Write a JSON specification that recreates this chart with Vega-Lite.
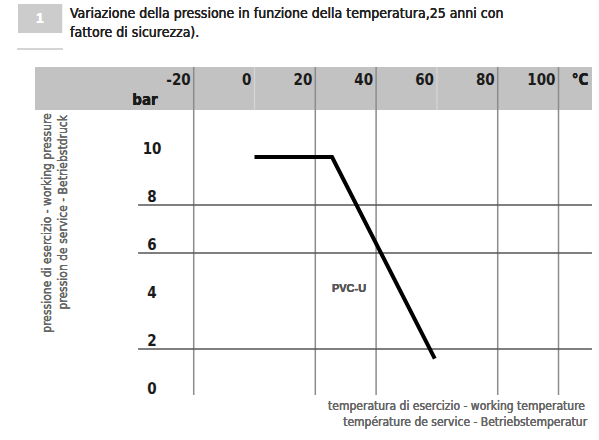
{
  "$schema": "https://vega.github.io/schema/vega-lite/v6.json",
  "width": 599,
  "height": 440,
  "autosize": "none",
  "padding": 0,
  "background": "white",
  "config": {"view": {"stroke": null}, "font": "DejaVu Sans Condensed, sans-serif"},
  "datasets": {
    "curve": [{"t": 0, "p": 10}, {"t": 25.5, "p": 10}, {"t": 59.3, "p": 1.6}],
    "xticks": [{"t": -20, "label": "-20"}, {"t": 0, "label": "0"}, {"t": 20, "label": "20"}, {"t": 40, "label": "40"}, {"t": 60, "label": "60"}, {"t": 80, "label": "80"}, {"t": 100, "label": "100"}],
    "yticks": [{"p": 0, "label": "0"}, {"p": 2, "label": "2"}, {"p": 4, "label": "4"}, {"p": 6, "label": "6"}, {"p": 8, "label": "8"}, {"p": 10, "label": "10"}]
  },
  "data": {"name": "curve"},
  "layer": [
    {
      "mark": {"type": "rect", "color": "#cccccc"},
      "encoding": {
        "x": {"datum": -77.8, "type": "quantitative", "scale": {"domain": [-83.72, 113.32], "nice": false, "zero": false}, "axis": null},
        "x2": {"datum": -63.3},
        "y": {"datum": 16.375, "type": "quantitative", "scale": {"domain": [-1.792, 16.542], "nice": false, "zero": false}, "axis": null},
        "y2": {"datum": 15.167}
      }
    },
    {
      "mark": {"type": "text", "color": "white", "fontWeight": "bold", "fontSize": 14, "font": "Liberation Sans, sans-serif", "baseline": "middle", "align": "center"},
      "encoding": {
        "x": {"datum": -70.56, "type": "quantitative", "scale": {"domain": [-83.72, 113.32], "nice": false, "zero": false}, "axis": null},
        "y": {"datum": 15.75, "type": "quantitative", "scale": {"domain": [-1.792, 16.542], "nice": false, "zero": false}, "axis": null},
        "text": {"value": "1"}
      }
    },
    {
      "mark": {"type": "rule", "color": "#cfcfcf", "strokeWidth": 1},
      "encoding": {
        "x": {"datum": -78.1, "type": "quantitative", "scale": {"domain": [-83.72, 113.32], "nice": false, "zero": false}, "axis": null},
        "x2": {"datum": -63.0},
        "y": {"datum": 14.5, "type": "quantitative", "scale": {"domain": [-1.792, 16.542], "nice": false, "zero": false}, "axis": null}
      }
    },
    {
      "mark": {"type": "text", "color": "#222222", "fontSize": 14, "baseline": "middle", "align": "left"},
      "encoding": {
        "x": {"datum": -60.7, "type": "quantitative", "scale": {"domain": [-83.72, 113.32], "nice": false, "zero": false}, "axis": null},
        "y": {"datum": 15.95, "type": "quantitative", "scale": {"domain": [-1.792, 16.542], "nice": false, "zero": false}, "axis": null},
        "text": {"value": "Variazione della pressione in funzione della temperatura,25 anni con"}
      }
    },
    {
      "mark": {"type": "text", "color": "#222222", "fontSize": 14, "baseline": "middle", "align": "left"},
      "encoding": {
        "x": {"datum": -60.7, "type": "quantitative", "scale": {"domain": [-83.72, 113.32], "nice": false, "zero": false}, "axis": null},
        "y": {"datum": 15.15, "type": "quantitative", "scale": {"domain": [-1.792, 16.542], "nice": false, "zero": false}, "axis": null},
        "text": {"value": "fattore di sicurezza)."}
      }
    },
    {
      "mark": {"type": "rect", "color": "#c2c2c2"},
      "encoding": {
        "x": {"datum": -72.2, "type": "quantitative", "scale": {"domain": [-83.72, 113.32], "nice": false, "zero": false}, "axis": null},
        "x2": {"datum": 111.0},
        "y": {"datum": 13.75, "type": "quantitative", "scale": {"domain": [-1.792, 16.542], "nice": false, "zero": false}, "axis": null},
        "y2": {"datum": 11.96}
      }
    },
    {
      "data": {"name": "xticks"},
      "transform": [{"filter": "datum.t == 0 || datum.t == 60"}],
      "mark": {"type": "rule", "color": "#d6d6d6", "strokeWidth": 1.2},
      "encoding": {
        "x": {"field": "t", "type": "quantitative", "scale": {"domain": [-83.72, 113.32], "nice": false, "zero": false}, "axis": null},
        "y": {"datum": 13.75, "type": "quantitative", "scale": {"domain": [-1.792, 16.542], "nice": false, "zero": false}, "axis": null},
        "y2": {"datum": 11.96}
      }
    },
    {
      "data": {"name": "xticks"},
      "transform": [{"filter": "datum.t != 0 && datum.t != 60"}],
      "mark": {"type": "rule", "color": "#8c8c8c", "strokeWidth": 1.5},
      "encoding": {
        "x": {"field": "t", "type": "quantitative", "scale": {"domain": [-83.72, 113.32], "nice": false, "zero": false}, "axis": null},
        "y": {"datum": 13.75, "type": "quantitative", "scale": {"domain": [-1.792, 16.542], "nice": false, "zero": false}, "axis": null},
        "y2": {"datum": 0.08}
      }
    },
    {
      "data": {"name": "yticks"},
      "transform": [{"filter": "datum.p == 2 || datum.p == 6 || datum.p == 8"}],
      "mark": {"type": "rule", "color": "#555555", "strokeWidth": 1.3},
      "encoding": {
        "x": {"datum": -38.3, "type": "quantitative", "scale": {"domain": [-83.72, 113.32], "nice": false, "zero": false}, "axis": null},
        "x2": {"datum": 111.0},
        "y": {"field": "p", "type": "quantitative", "scale": {"domain": [-1.792, 16.542], "nice": false, "zero": false}, "axis": null}
      }
    },
    {
      "mark": {"type": "line", "color": "black", "strokeWidth": 4, "strokeJoin": "miter"},
      "encoding": {
        "x": {"field": "t", "type": "quantitative", "scale": {"domain": [-83.72, 113.32], "nice": false, "zero": false}, "axis": null},
        "y": {"field": "p", "type": "quantitative", "scale": {"domain": [-1.792, 16.542], "nice": false, "zero": false}, "axis": null}
      }
    },
    {
      "data": {"name": "xticks"},
      "mark": {"type": "text", "color": "#1a1a1a", "fontSize": 15, "fontWeight": "bold", "align": "right", "baseline": "middle", "dx": -3},
      "encoding": {
        "x": {"field": "t", "type": "quantitative", "scale": {"domain": [-83.72, 113.32], "nice": false, "zero": false}, "axis": null},
        "y": {"datum": 13.21, "type": "quantitative", "scale": {"domain": [-1.792, 16.542], "nice": false, "zero": false}, "axis": null},
        "text": {"field": "label"}
      }
    },
    {
      "mark": {"type": "text", "color": "#1a1a1a", "fontSize": 15, "fontWeight": "bold", "align": "center", "baseline": "middle"},
      "encoding": {
        "x": {"datum": 107.1, "type": "quantitative", "scale": {"domain": [-83.72, 113.32], "nice": false, "zero": false}, "axis": null},
        "y": {"datum": 13.21, "type": "quantitative", "scale": {"domain": [-1.792, 16.542], "nice": false, "zero": false}, "axis": null},
        "text": {"value": "°C"}
      }
    },
    {
      "mark": {"type": "text", "color": "#1a1a1a", "fontSize": 15, "fontWeight": "bold", "align": "center", "baseline": "middle"},
      "encoding": {
        "x": {"datum": -36.0, "type": "quantitative", "scale": {"domain": [-83.72, 113.32], "nice": false, "zero": false}, "axis": null},
        "y": {"datum": 12.375, "type": "quantitative", "scale": {"domain": [-1.792, 16.542], "nice": false, "zero": false}, "axis": null},
        "text": {"value": "bar"}
      }
    },
    {
      "data": {"name": "yticks"},
      "mark": {"type": "text", "color": "#1a1a1a", "fontSize": 15, "fontWeight": "bold", "align": "center", "baseline": "middle", "dy": -8},
      "encoding": {
        "x": {"datum": -33.7, "type": "quantitative", "scale": {"domain": [-83.72, 113.32], "nice": false, "zero": false}, "axis": null},
        "y": {"field": "p", "type": "quantitative", "scale": {"domain": [-1.792, 16.542], "nice": false, "zero": false}, "axis": null},
        "text": {"field": "label"}
      }
    },
    {
      "mark": {"type": "text", "color": "#666666", "fontSize": 12, "align": "right", "baseline": "middle", "angle": 270},
      "encoding": {
        "x": {"datum": -68.26, "type": "quantitative", "scale": {"domain": [-83.72, 113.32], "nice": false, "zero": false}, "axis": null},
        "y": {"datum": 11.83, "type": "quantitative", "scale": {"domain": [-1.792, 16.542], "nice": false, "zero": false}, "axis": null},
        "text": {"value": "pressione di esercizio - working pressure"}
      }
    },
    {
      "mark": {"type": "text", "color": "#666666", "fontSize": 12, "align": "right", "baseline": "middle", "angle": 270},
      "encoding": {
        "x": {"datum": -63.0, "type": "quantitative", "scale": {"domain": [-83.72, 113.32], "nice": false, "zero": false}, "axis": null},
        "y": {"datum": 11.75, "type": "quantitative", "scale": {"domain": [-1.792, 16.542], "nice": false, "zero": false}, "axis": null},
        "text": {"value": "pression de service - Betriebstdruck"}
      }
    },
    {
      "mark": {"type": "text", "color": "#666666", "fontSize": 12, "align": "right", "baseline": "middle"},
      "encoding": {
        "x": {"datum": 108.7, "type": "quantitative", "scale": {"domain": [-83.72, 113.32], "nice": false, "zero": false}, "axis": null},
        "y": {"datum": -0.375, "type": "quantitative", "scale": {"domain": [-1.792, 16.542], "nice": false, "zero": false}, "axis": null},
        "text": {"value": "temperatura di esercizio - working temperature"}
      }
    },
    {
      "mark": {"type": "text", "color": "#666666", "fontSize": 12, "align": "right", "baseline": "middle"},
      "encoding": {
        "x": {"datum": 109.4, "type": "quantitative", "scale": {"domain": [-83.72, 113.32], "nice": false, "zero": false}, "axis": null},
        "y": {"datum": -1.04, "type": "quantitative", "scale": {"domain": [-1.792, 16.542], "nice": false, "zero": false}, "axis": null},
        "text": {"value": "température de service - Betriebstemperatur"}
      }
    },
    {
      "mark": {"type": "text", "color": "#555555", "fontSize": 11, "fontWeight": "bold", "font": "Liberation Sans, sans-serif", "align": "center", "baseline": "middle"},
      "encoding": {
        "x": {"datum": 31.1, "type": "quantitative", "scale": {"domain": [-83.72, 113.32], "nice": false, "zero": false}, "axis": null},
        "y": {"datum": 4.5, "type": "quantitative", "scale": {"domain": [-1.792, 16.542], "nice": false, "zero": false}, "axis": null},
        "text": {"value": "PVC-U"}
      }
    }
  ]
}
